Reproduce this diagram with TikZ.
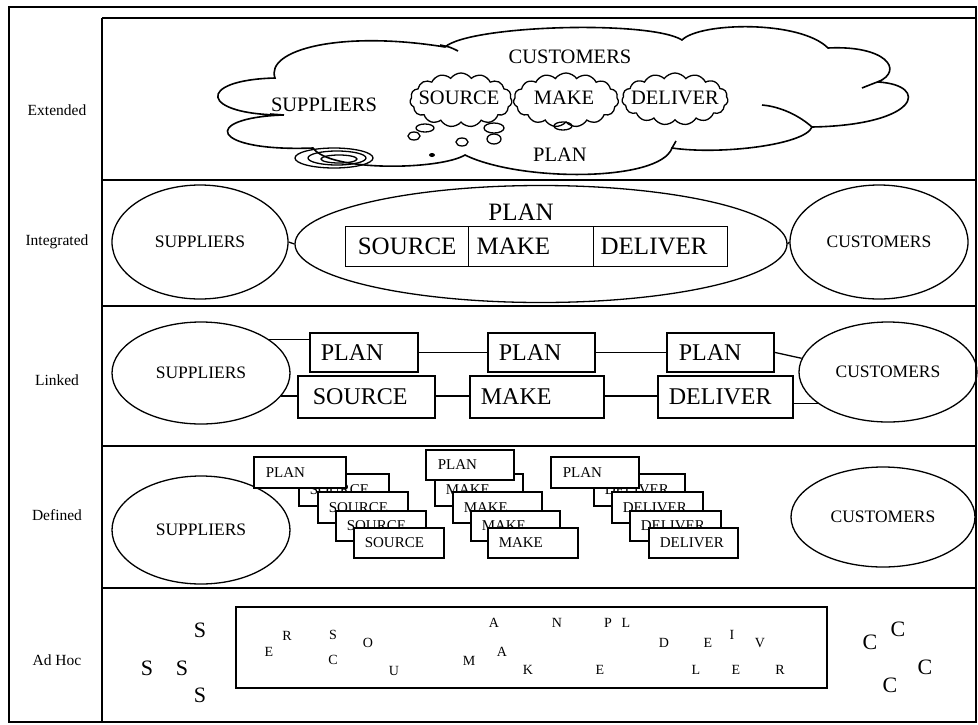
\documentclass[tikz,border=0pt]{standalone}
\usepackage{fontspec}
\setmainfont{Liberation Serif}
\usetikzlibrary{shapes.geometric,shapes.symbols}
\begin{document}
\begin{tikzpicture}[x=1pt,y=-1pt,
 lab/.style={font=\fontsize{15.5}{18}\selectfont, inner sep=0pt},
 ell/.style={draw,ellipse,line width=1.3pt,inner sep=0pt,font=\fontsize{17.5}{20}\selectfont},
 cell/.style={draw,line width=1.3pt,anchor=north west,align=left,inner ysep=0pt,minimum height=40pt,font=\fontsize{25}{28}\selectfont},
 lbox/.style={draw,line width=1.8pt,fill=white,anchor=north west,align=left,inner ysep=0pt,font=\fontsize{24}{28}\selectfont},
 dbox/.style={draw,line width=1.5pt,fill=white,anchor=north west,align=left,inner ysep=0pt,inner xsep=11pt,font=\fontsize{15}{18}\selectfont},
 ctext/.style={font=\fontsize{20.5}{24}\selectfont, inner sep=0pt},
 puff/.style={draw,cloud,cloud puffs=15,cloud puff arc=110,line width=1.3pt,inner sep=0pt},
 conn/.style={line width=1.3pt},
 rowrule/.style={line width=1.8pt},
 sl/.style={font=\fontsize{14}{16}\selectfont, inner sep=0pt},
 bl/.style={font=\fontsize{22}{24}\selectfont, inner sep=0pt}]
\useasboundingbox (0,0) rectangle (978,724);
% frame
\draw[line width=2.6pt] (9,7) rectangle (976,722);
\draw[rowrule] (102,18) -- (976,18);
\draw[rowrule] (102,18) -- (102,722);
\foreach \yy in {180,306,446,588} \draw[rowrule] (102,\yy) -- (976,\yy);
% left labels
\node[lab] (lext) at (57,110) {Extended};
\node[lab] (lint) at (57,242) {Integrated};
\node[lab] (llin) at (57,380) {Linked};
\node[lab] (ldef) at (57,515) {Defined};
\node[lab] (ladh) at (57,660) {Ad Hoc};
% ---------- Extended: cloud ----------
\draw[line width=1.6pt, fill=white] (275,78) .. controls (265,50) and (340,30) .. (445,47)
  .. controls (470,25) and (650,20) .. (682,40)
  .. controls (700,22) and (800,20) .. (828,48)
  .. controls (885,45) and (905,70) .. (878,82)
  .. controls (930,85) and (920,125) .. (812,127)
  .. controls (805,145) and (720,155) .. (672,148)
  .. controls (660,182) and (520,182) .. (465,155)
  .. controls (440,170) and (330,172) .. (313,148)
  .. controls (210,152) and (200,118) .. (283,115)
  .. controls (200,115) and (195,80) .. (275,78) -- cycle;
\draw[line width=1.6pt] (440,45) .. controls (450,47) .. (458,51);
\draw[line width=1.6pt] (880,81) .. controls (872,84) .. (862,88);
\draw[line width=1.6pt] (812,127) .. controls (795,112) and (775,106) .. (762,105);
\draw[line width=1.6pt] (270,114) -- (284,115);
\draw[line width=1.6pt] (672,148) -- (676,141);
% small clouds
\node[puff, minimum width=102pt, minimum height=54pt] (csrc) at (461,100) {};
\node[puff, minimum width=105pt, minimum height=54pt] (cmak) at (566,100) {};
\node[puff, minimum width=106pt, minimum height=52pt] (cdel) at (675,99) {};
% thought bubbles
\draw[line width=1.3pt] (425,128) ellipse [x radius=9, y radius=4];
\draw[line width=1.3pt] (414,136) ellipse [x radius=6, y radius=4];
\draw[line width=1.3pt] (494,128) ellipse [x radius=10, y radius=5];
\draw[line width=1.3pt] (494,139) ellipse [x radius=7, y radius=5];
\draw[line width=1.3pt] (462,142) ellipse [x radius=6, y radius=4];
\fill (432,155) ellipse [x radius=3, y radius=2];
\draw[line width=1.3pt] (563,126) ellipse [x radius=9, y radius=4];
\draw[line width=1.3pt] (334,158) ellipse [x radius=39, y radius=10];
\draw[line width=1.3pt] (337,158) ellipse [x radius=29, y radius=7];
\draw[line width=1.3pt] (339,159) ellipse [x radius=18, y radius=4];
% cloud texts
\node[ctext] (tcus) at (570,57) {CUSTOMERS};
\node[ctext] (tsup) at (324,105) {SUPPLIERS};
\node[ctext] (tsrc) at (459,98) {SOURCE};
\node[ctext] (tmak) at (564,98) {MAKE};
\node[ctext] (tdel) at (675,98) {DELIVER};
\node[ctext] (tpla) at (560,155) {PLAN};
% ---------- Integrated ----------
\node[ell, minimum width=176pt, minimum height=114pt] (sup1) at (200,242) {SUPPLIERS};
\node[ell, minimum width=492pt, minimum height=117pt] (big1) at (541,244) {};
\node[ell, minimum width=178pt, minimum height=114pt] (cus1) at (879,242) {CUSTOMERS};
\draw[conn] (sup1.east) -- (big1.west);
\draw[conn] (big1.east) -- (cus1.west);
\node[font=\fontsize{25}{28}\selectfont, inner sep=0pt] (iplan) at (521,212) {PLAN};
\node[cell, inner xsep=0pt, text width=123pt, align=center] (isrc) at (345,226) {SOURCE};
\node[cell, inner xsep=8pt, text width=109pt] (imak) at (468,226) {MAKE};
\node[cell, inner xsep=7pt, text width=120pt] (idel) at (593,226) {DELIVER};
% ---------- Linked ----------
\node[ell, minimum width=178pt, minimum height=102pt] (sup2) at (201,373) {SUPPLIERS};
\node[ell, minimum width=178pt, minimum height=100pt] (cus2) at (888,372) {CUSTOMERS};
\node[lbox, inner xsep=11pt, text width=86pt, minimum height=39pt] (pl1) at (309,332) {PLAN};
\node[lbox, inner xsep=15pt, text width=107pt, minimum height=42pt] (src2) at (297,375) {SOURCE};
\node[lbox, inner xsep=11pt, text width=85pt, minimum height=39pt] (pl2) at (487,332) {PLAN};
\node[lbox, inner xsep=11pt, text width=112pt, minimum height=42pt] (mak2) at (469,375) {MAKE};
\node[lbox, inner xsep=12pt, text width=83pt, minimum height=39pt] (pl3) at (666,332) {PLAN};
\node[lbox, inner xsep=11pt, text width=113pt, minimum height=42pt] (del2) at (657,375) {DELIVER};
\draw[conn] (sup2.26) -- (sup2.26 -| pl1.west);
\draw[conn] (sup2.-16) -- (sup2.-16 -| src2.west);
\draw[conn] (pl1.east) -- (pl2.west);
\draw[conn] (pl2.east) -- (pl3.west);
\draw[conn] (src2.east |- 0,396) -- (mak2.west |- 0,396);
\draw[conn] (mak2.east |- 0,396) -- (del2.west |- 0,396);
\draw[conn] (pl3.east) -- (cus2.171);
\draw[conn] (del2.east |- cus2.204) -- (cus2.204);
% ---------- Defined ----------
\node[ell, minimum width=178pt, minimum height=108pt] (sup3) at (201,530) {SUPPLIERS};
\node[ell, minimum width=184pt, minimum height=100pt] (cus3) at (883,517) {CUSTOMERS};
% source stack
\node[dbox, text width=68pt, minimum height=32pt] (ds1) at (298,473) {SOURCE};
\node[dbox, text width=68pt, minimum height=31pt] (ds2) at (317,491) {SOURCE};
\node[dbox, text width=68pt, minimum height=30pt] (ds3) at (335,510) {SOURCE};
\node[dbox, text width=68pt, minimum height=30pt] (ds4) at (353,527) {SOURCE};
\node[dbox, inner xsep=12pt, text width=68pt, minimum height=31pt] (dp1) at (253,456) {PLAN};
% make stack
\node[dbox, text width=66pt, minimum height=32pt] (dm1) at (434,473) {MAKE};
\node[dbox, text width=67pt, minimum height=31pt] (dm2) at (452,491) {MAKE};
\node[dbox, text width=67pt, minimum height=30pt] (dm3) at (470,510) {MAKE};
\node[dbox, text width=68pt, minimum height=30pt] (dm4) at (487,527) {MAKE};
\node[dbox, inner xsep=12pt, text width=64pt, minimum height=30pt] (dp2) at (425,449) {PLAN};
% deliver stack
\node[dbox, text width=69pt, minimum height=32pt] (dd1) at (593,473) {DELIVER};
\node[dbox, text width=69pt, minimum height=31pt] (dd2) at (611,491) {DELIVER};
\node[dbox, text width=69pt, minimum height=30pt] (dd3) at (629,510) {DELIVER};
\node[dbox, text width=67pt, minimum height=30pt] (dd4) at (648,527) {DELIVER};
\node[dbox, inner xsep=12pt, text width=64pt, minimum height=31pt] (dp3) at (550,456) {PLAN};
% ---------- Ad Hoc ----------
\draw[line width=1.8pt] (236,607) rectangle (827,688);
\node[bl] (s1) at (200,630) {S};
\node[bl] (s2) at (147,668) {S};
\node[bl] (s3) at (182,668) {S};
\node[bl] (s4) at (200,695) {S};
\node[sl] (a1) at (269,652) {E};
\node[sl] (a2) at (287,636) {R};
\node[sl] (a3) at (333,635) {S};
\node[sl] (a4) at (333,660) {C};
\node[sl] (a5) at (368,643) {O};
\node[sl] (a6) at (394,671) {U};
\node[sl] (a7) at (494,623) {A};
\node[sl] (a8) at (469,661) {M};
\node[sl] (a9) at (502,652) {A};
\node[sl] (a10) at (528,670) {K};
\node[sl] (a11) at (557,623) {N};
\node[sl] (a12) at (608,623) {P};
\node[sl] (a13) at (626,623) {L};
\node[sl] (a14) at (600,670) {E};
\node[sl] (a15) at (664,643) {D};
\node[sl] (a16) at (708,643) {E};
\node[sl] (a17) at (732,635) {I};
\node[sl] (a18) at (760,643) {V};
\node[sl] (a19) at (696,670) {L};
\node[sl] (a20) at (736,670) {E};
\node[sl] (a21) at (780,670) {R};
\node[bl] (c1) at (870,642) {C};
\node[bl] (c2) at (898,629) {C};
\node[bl] (c3) at (925,667) {C};
\node[bl] (c4) at (890,685) {C};
\end{tikzpicture}
\end{document}
